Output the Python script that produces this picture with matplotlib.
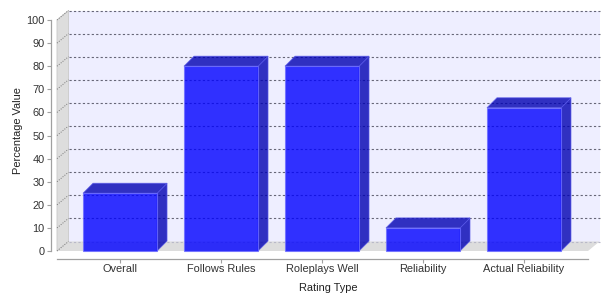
import matplotlib
matplotlib.use('Agg')
import matplotlib.pyplot as plt
from matplotlib.patches import Polygon, Rectangle
from matplotlib.lines import Line2D

categories = ["Overall", "Follows Rules", "Roleplays Well", "Reliability", "Actual Reliability"]
values = [25, 80, 80, 10, 62]
y_ticks = list(range(0, 101, 10))
x_label = "Rating Type"
y_label = "Percentage Value"

plt.rcParams['font.family'] = ['Liberation Sans', 'DejaVu Sans']

W, H, DPI = 610, 300, 100
fig = plt.figure(figsize=(W / DPI, H / DPI), dpi=DPI)
fig.patch.set_facecolor('white')

# front plane in pixels
L, R, B, T = 57, 588, 251, 20
ax = fig.add_axes([L / W, 1 - B / H, (R - L) / W, (B - T) / H])
x0, x1 = -0.624, 4.634
ax.set_xlim(x0, x1)
ax.set_ylim(0, 100)
ax.patch.set_visible(False)

pxx = (R - L) / (x1 - x0)
pxy = (B - T) / 100.0
DX, DY = 11.5, 9.5      # wall depth (px)
BDX, BDY = 10, 10       # bar depth (px)
dxu, dyu = DX / pxx, DY / pxy
bdxu, bdyu = BDX / pxx, BDY / pxy

# walls
ax.add_patch(Rectangle((x0 + dxu, dyu), (x1 - x0), 100, facecolor='#EEEEFF',
                       edgecolor='none', zorder=0, clip_on=False))
ax.add_patch(Polygon([(x0, 0), (x0, 100), (x0 + dxu, 100 + dyu), (x0 + dxu, dyu)],
                     closed=True, facecolor='#DDDDDD', edgecolor='#C8C8C8', lw=0.6,
                     zorder=0.5, clip_on=False))
ax.add_patch(Polygon([(x0, 0), (x1, 0), (x1 + dxu, dyu), (x0 + dxu, dyu)],
                     closed=True, facecolor='#DDDDDD', edgecolor='none',
                     zorder=0.5, clip_on=False))

# gridlines
for t in y_ticks:
    col = '#B8B8C8' if t == 0 else '#666677'
    ax.add_line(Line2D([x0 + dxu, x1 + dxu], [t + dyu, t + dyu], color=col, lw=0.8,
                       linestyle=(0, (2, 2)), zorder=1, clip_on=False))
    ax.add_line(Line2D([x0, x0 + dxu], [t, t + dyu], color='#777777', lw=0.7,
                       linestyle=(0, (1, 1.5)), zorder=1, clip_on=False))

# bars
bw = 0.733
for i, v in enumerate(values):
    l, r = i - bw / 2, i + bw / 2
    ax.add_patch(Polygon([(r, 0), (r + bdxu, bdyu), (r + bdxu, v + bdyu), (r, v)],
                         closed=True, facecolor='#0000B2', alpha=0.8, edgecolor='#5A5AE8',
                         lw=0.6, zorder=2, clip_on=False))
    ax.add_patch(Polygon([(l, v), (r, v), (r + bdxu, v + bdyu), (l + bdxu, v + bdyu)],
                         closed=True, facecolor='#0000B2', alpha=0.8, edgecolor='#5A5AE8',
                         lw=0.6, zorder=2, clip_on=False))
    ax.add_patch(Rectangle((l, 0), bw, v, facecolor='#0000FF', alpha=0.8,
                           edgecolor='#6E6EFF', lw=0.8, zorder=3, clip_on=False))

# axes
for s in ['top', 'right']:
    ax.spines[s].set_visible(False)
ax.spines['left'].set_position(('outward', 4))
ax.spines['bottom'].set_position(('outward', 5.5))
for s in ['left', 'bottom']:
    ax.spines[s].set_color('#A0A0A0')
    ax.spines[s].set_linewidth(0.9)
ax.set_yticks(y_ticks)
ax.set_yticklabels([str(t) for t in y_ticks])
ax.set_xticks(range(len(categories)))
ax.set_xticklabels(categories)
ax.tick_params(axis='both', colors='#A0A0A0', labelcolor='#333333', labelsize=7.9,
               length=3, width=0.8, pad=2)
ax.tick_params(axis='x', pad=1)

fig.text((57 + 600) / 2 / W, 1 - 288 / H, x_label, ha='center', va='center',
         fontsize=7.9, color='#222222')
fig.text(18 / W, 1 - 131 / H, y_label, ha='center', va='center', rotation=90,
         fontsize=7.9, color='#222222')

fig.savefig('out.png', dpi=DPI)
